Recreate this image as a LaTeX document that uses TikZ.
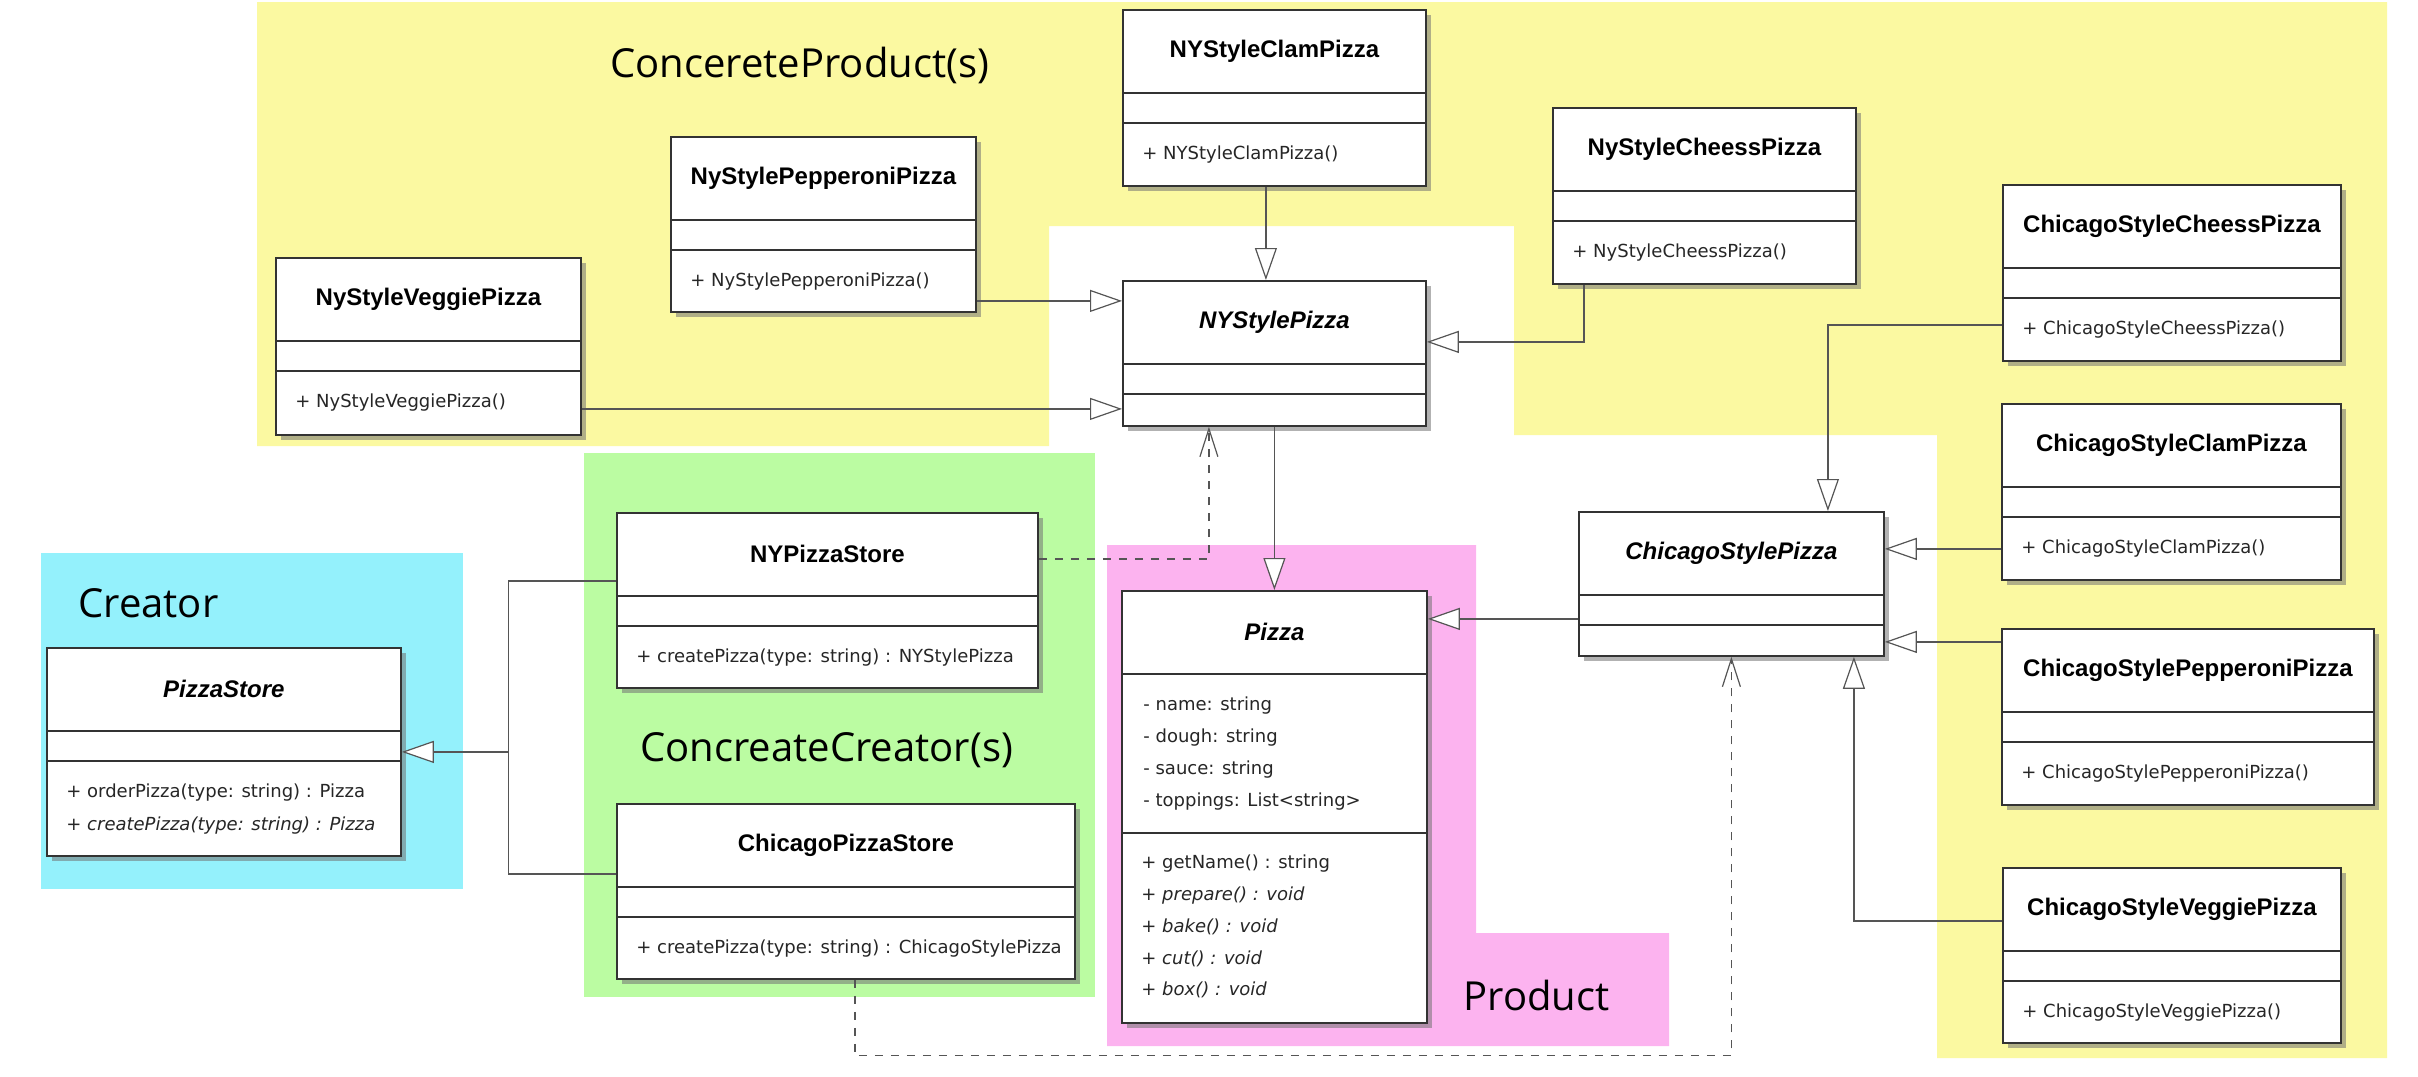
\documentclass[tikz,border=0pt]{standalone}
\usepackage{fontspec}
\usepackage{tikz}
\usetikzlibrary{arrows.meta,calc,positioning,shadows}

\newfontfamily\namefont{Liberation Sans}
\newfontfamily\memberfont{DejaVu Sans}
\newfontfamily\regionfont{Open Sans}

\definecolor{prodyellow}{HTML}{FBF9A1}
\definecolor{creatorcyan}{HTML}{94F1FC}
\definecolor{concgreen}{HTML}{BBFCA2}
\definecolor{prodpink}{HTML}{FCB3EF}
\definecolor{boxline}{HTML}{333333}
\definecolor{conn}{HTML}{555555}

% one UML class: name, x, y (top left), width, height, title, operation
\newcommand{\umlclass}[7]{%
  \node[classbox, minimum width=#4*0.5pt, minimum height=#5*0.5pt] (#1) at (#2,#3) {};
  \node[classname] (#1-name) at ([yshift=-21pt]#1.north) {#6};
  \draw[divider] ([yshift=-42pt]#1.north west) -- ([yshift=-42pt]#1.north east);
  \draw[divider] ([yshift=-57pt]#1.north west) -- ([yshift=-57pt]#1.north east);
  \node[member] (#1-op) at ([xshift=10pt,yshift=-73pt]#1.north west) {#7};
}

\begin{document}
\begin{tikzpicture}[x=0.5pt,y=-0.5pt,
    classbox/.style={draw=boxline,line width=0.9pt,fill=white,anchor=north west,inner sep=0pt,
        drop shadow={shadow xshift=2.5pt,shadow yshift=-2.5pt,fill=black!55,opacity=0.55}},
    classname/.style={font=\namefont\bfseries\fontsize{12pt}{14pt}\selectfont,inner sep=0pt},
    member/.style={font=\memberfont\fontsize{9pt}{11pt}\selectfont,anchor=west,inner sep=0pt,text=black!85},
    divider/.style={draw=boxline,line width=0.9pt},
    regionlabel/.style={font=\regionfont\fontsize{20pt}{24pt}\selectfont,anchor=base west,inner sep=0pt},
    inherit/.style={draw=conn,line width=0.6pt,-{Triangle[length=16pt,width=11pt,fill=white]}},
    depend/.style={draw=conn,line width=0.6pt,dash pattern=on 4pt off 4pt,-{Straight Barb[length=14pt,width=9pt]}}]

    \useasboundingbox (0,0) rectangle (2418,1076);

    % Draw the coloured regions
    \fill[prodyellow] (257,2) -- (2387,2) -- (2387,1058) -- (1937,1058) -- (1937,435) -- (1514,435)
        -- (1514,226) -- (1049,226) -- (1049,446) -- (257,446) -- cycle;
    \fill[creatorcyan] (41,553) rectangle (463,889);
    \fill[concgreen] (584,453) rectangle (1095,997);
    \fill[prodpink] (1107,545) -- (1476,545) -- (1476,933) -- (1669,933) -- (1669,1046) -- (1107,1046) -- cycle;

    % Region labels
    \node[regionlabel] (lblconcprod) at (610,77) {ConcereteProduct(s)};
    \node[regionlabel] (lblcreator) at (78,617) {Creator};
    \node[regionlabel] (lblconccreator) at (640,761) {ConcreateCreator(s)};
    \node[regionlabel] (lblproduct) at (1463,1010) {Product};

    % NY style pizzas
    \umlclass{nyclam}{1122}{9}{303}{176}{NYStyleClamPizza}{+ NYStyleClamPizza()}
    \umlclass{nypepperoni}{670}{136}{305}{175}{NyStylePepperoniPizza}{+ NyStylePepperoniPizza()}
    \umlclass{nyveggie}{275}{257}{305}{177}{NyStyleVeggiePizza}{+ NyStyleVeggiePizza()}
    \umlclass{nycheese}{1552}{107}{303}{176}{NyStyleCheessPizza}{+ NyStyleCheessPizza()}
    \umlclass{nystyle}{1122}{280}{303}{145}{\itshape NYStylePizza}{}

    % Chicago style pizzas
    \umlclass{chcheese}{2002}{184}{338}{176}{ChicagoStyleCheessPizza}{+ ChicagoStyleCheessPizza()}
    \umlclass{chclam}{2001}{403}{339}{176}{ChicagoStyleClamPizza}{+ ChicagoStyleClamPizza()}
    \umlclass{chpepperoni}{2001}{628}{372}{176}{ChicagoStylePepperoniPizza}{+ ChicagoStylePepperoniPizza()}
    \umlclass{chveggie}{2002}{867}{338}{175}{ChicagoStyleVeggiePizza}{+ ChicagoStyleVeggiePizza()}
    \umlclass{chstyle}{1578}{511}{305}{144}{\itshape ChicagoStylePizza}{}

    % Stores
    \umlclass{store}{46}{647}{354}{208}{\itshape PizzaStore}{+ orderPizza(type: string) : Pizza}
    \node[member] (store-op2) at ([xshift=10pt,yshift=-89.5pt]store.north west) {+ \textit{createPizza(type: string) : Pizza}};
    \umlclass{nystore}{616}{512}{421}{175}{NYPizzaStore}{+ createPizza(type: string) : NYStylePizza}
    \umlclass{chstore}{616}{803}{458}{175}{ChicagoPizzaStore}{+ createPizza(type: string) : ChicagoStylePizza}

    % Pizza with its attributes and operations
    \node[classbox, minimum width=305*0.5pt, minimum height=432*0.5pt] (pizza) at (1121,590) {};
    \node[classname] (pizza-name) at ([yshift=-21pt]pizza.north) {\itshape Pizza};
    \draw[divider] ([yshift=-42pt]pizza.north west) -- ([yshift=-42pt]pizza.north east);
    \draw[divider] ([yshift=-121.5pt]pizza.north west) -- ([yshift=-121.5pt]pizza.north east);
    \foreach \txt [count=\i] in {- name: string,- dough: string,- sauce: string,- toppings: List<string>}
        \node[member] (pizza-attr\i) at ([xshift=11pt,yshift={-58pt-(\i-1)*16pt}]pizza.north west) {\txt};
    \foreach \txt [count=\i] in {+ getName() : string,+ \textit{prepare() : void},+ \textit{bake() : void},+ \textit{cut() : void},+ \textit{box() : void}}
        \node[member] (pizza-op\i) at ([xshift=10pt,yshift={-137pt-(\i-1)*15.75pt}]pizza.north west) {\txt};

    % Generalisations towards NYStylePizza
    \draw[inherit] ([yshift=-31.25pt]nyveggie.east) -- ([yshift=-31.25pt]nyveggie.east -| nystyle.west);
    \draw[inherit] ([yshift=-38.25pt]nypepperoni.east) -- ([yshift=-38.25pt]nypepperoni.east -| nystyle.west);
    \draw[inherit] ([xshift=-4.25pt]nyclam.south) -- ([xshift=-4.25pt]nyclam.south |- nystyle.north);
    \draw[inherit] ([xshift=16pt]nycheese.south west) |- ([yshift=5.75pt]nystyle.east);

    % Generalisations towards ChicagoStylePizza
    \draw[inherit] ([yshift=-26pt]chcheese.west) -| ([xshift=48.25pt]chstyle.north);
    \draw[inherit] ([yshift=-28.5pt]chclam.west) -- ([yshift=-28.5pt]chclam.west -| chstyle.east);
    \draw[inherit] ([yshift=37.5pt]chpepperoni.west) -- ([yshift=37.5pt]chpepperoni.west -| chstyle.east);
    \draw[inherit] ([yshift=17.25pt]chveggie.west) -| ([xshift=61.25pt]chstyle.south);

    % Generalisations towards Pizza
    \draw[inherit] (nystyle.south) -- (pizza.north);
    \draw[inherit] ([yshift=-17.5pt]chstyle.west) -- ([yshift=-17.5pt]chstyle.west -| pizza.east);

    % Stores inherit from PizzaStore
    \coordinate (storejoin) at ([xshift=53.5pt]store.east);
    \draw[inherit] ([yshift=9.75pt]nystore.west) -| (storejoin) -- (store.east);
    \draw[draw=conn,line width=0.6pt] ([yshift=8.75pt]chstore.west) -| (storejoin);

    % Dependencies of the stores on their pizzas
    \draw[depend] ([yshift=20.75pt]nystore.east) -| ([xshift=-32.75pt]nystyle.south);
    \draw[depend] ([xshift=4.5pt]chstore.south) -- ++(0,76) -| (chstyle.south);

\end{tikzpicture}
\end{document}
